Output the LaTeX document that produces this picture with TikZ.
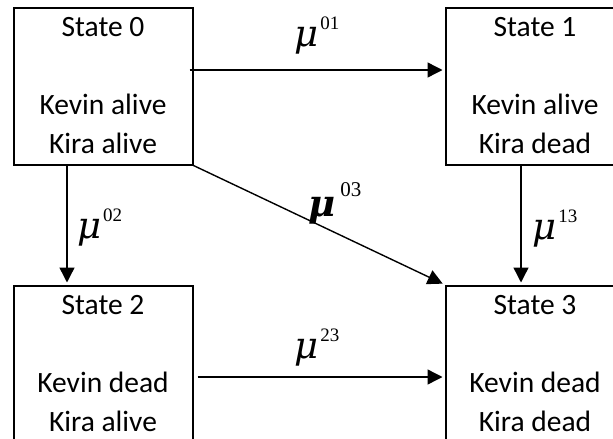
\documentclass[tikz,border=0pt]{standalone}
\usepackage{fontspec}
\setmainfont{Carlito}
\newfontfamily\mufont{DejaVu Serif}
\newfontfamily\supfont{Liberation Serif}
\usetikzlibrary{arrows.meta}
% transition intensity labels
\newcommand{\rate}[1]{{\mufont\itshape\fontsize{37}{37}\selectfont μ}\kern2pt\raisebox{17pt}{\supfont\fontsize{19}{19}\selectfont #1}}
\newcommand{\bigrate}[1]{{\mufont\bfseries\itshape\fontsize{37}{37}\selectfont μ}\kern5pt\raisebox{20pt}{\supfont\fontsize{21}{21}\selectfont #1}}

\begin{document}
\begin{tikzpicture}[x=1pt,y=-1pt,
    st/.style={shape=rectangle,draw=black,line width=2pt,minimum width=179pt,minimum height=157pt,
      align=center,inner sep=0pt,font=\fontsize{29.5}{39}\selectfont},
    tr/.style={-{Triangle[length=15pt,width=15pt]},line width=1.4pt,shorten >=2pt},
    lb/.style={inner sep=0pt,anchor=base west}]
    \useasboundingbox (0,0) rectangle (613,439);
    \clip (0,0) rectangle (613,439);

    \node[st] (0) at (103,86) {State 0\\[39pt]Kevin alive\\Kira alive};
    \node[st] (1) at (535,86) {State 1\\[39pt]Kevin alive\\Kira dead};
    \node[st] (2) at (103,364) {State 2\\[39pt]Kevin dead\\Kira alive};
    \node[st] (3) at (535,364) {State 3\\[39pt]Kevin dead\\Kira dead};

    \draw[tr] ([xshift=-4pt,yshift=16pt]0.east) -- ([yshift=16pt]1.west);
    \draw[tr] ([xshift=-36pt]0.south) -- ([xshift=-36pt]2.north);
    \draw[tr] (0.south east) -- (3.north west);
    \draw[tr] ([xshift=-14pt]1.south) -- ([xshift=-14pt]3.north);
    \draw[tr] ([xshift=4pt,yshift=-13pt]2.east) -- ([yshift=-13pt]3.west);

    \node[lb] (m01) at (294,46) {\rate{01}};
    \node[lb] (m02) at (77,238) {\rate{02}};
    \node[lb] (m03) at (308,216) {\bigrate{03}};
    \node[lb] (m13) at (532,239) {\rate{13}};
    \node[lb] (m23) at (294,358) {\rate{23}};

  \end{tikzpicture}
\end{document}
